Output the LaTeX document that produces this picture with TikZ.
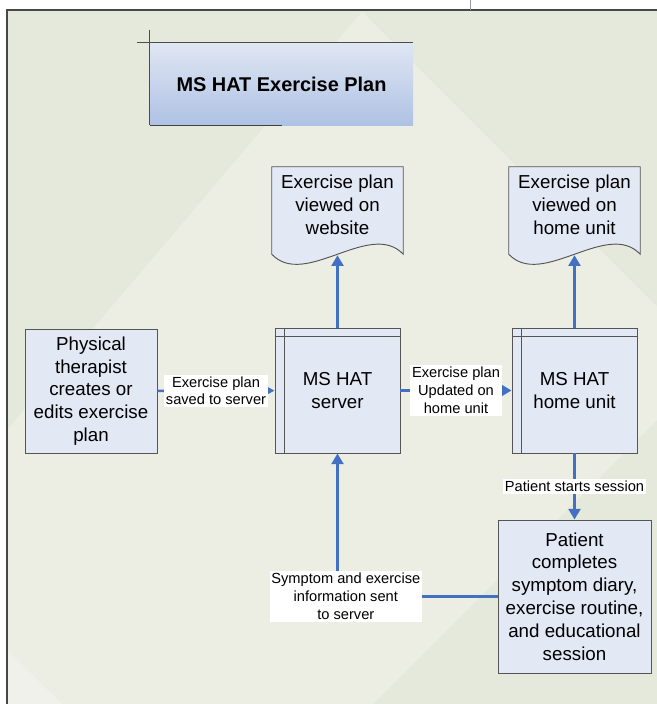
\documentclass[tikz,border=0pt]{standalone}
\usepackage{fontspec}
\setmainfont{Liberation Sans}
\usetikzlibrary{arrows.meta,positioning,calc,backgrounds}
\definecolor{boxfill}{RGB}{227,232,245}
\definecolor{boxline}{RGB}{85,85,85}
\definecolor{flowblue}{RGB}{66,113,196}
\definecolor{paperdark}{RGB}{229,233,220}
\definecolor{paperlight}{RGB}{236,238,228}
\definecolor{paperwhite}{RGB}{240,241,234}
\definecolor{titletop}{RGB}{224,230,243}
\definecolor{titlebot}{RGB}{174,194,228}
\pgfdeclarelayer{paper}
\pgfsetlayers{paper,background,main}
\tikzset{
  block/.style   ={rectangle, draw=boxline, line width=0.8pt, fill=boxfill,
                   align=center, inner sep=2pt, font=\fontsize{16}{19.5}\selectfont},
  store/.style   ={block, minimum width=3.75cm, minimum height=3.75cm},
  doc/.style     ={rectangle, align=center, inner sep=0pt, minimum width=3.93cm,
                   minimum height=2.28cm, font=\fontsize{16}{19.5}\selectfont},
  docline/.style ={draw=boxline, line width=0.8pt, fill=boxfill},
  titlebox/.style={rectangle, top color=titletop, bottom color=titlebot,
                   minimum width=7.89cm, minimum height=2.46cm,
                   font=\fontsize{17}{20}\selectfont\bfseries},
  flow/.style    ={draw=flowblue, line width=2.8pt, -{Triangle[length=9pt,width=10pt]}},
  lbl/.style     ={fill=white, align=center, inner sep=1.5pt,
                   font=\fontsize{12.5}{15.3}\selectfont},
  frame/.style   ={draw=black!72, line width=1.2pt},
}

\begin{document}
\begin{tikzpicture}[x=0.03cm, y=-0.03cm]
    \useasboundingbox (0,0) rectangle (657,704);

    % paper
    \begin{pgfonlayer}{paper}
        \fill[white] (0,0) rectangle (657,704);
        \fill[paperdark] (7,10) rectangle (657,704);
        \fill[paperlight] (362,12) -- (657,307) -- (657,420) -- (373,704)
            -- (7,704) -- (7,430) -- cycle;
        \fill[paperwhite] (7,650) -- (62,704) -- (7,704) -- cycle;
        \draw[frame] (7,704) -- (7,10) -- (657,10);
        \draw[black!40, line width=0.5pt] (470,0) -- (470,10);
    \end{pgfonlayer}

    % title
    \node[titlebox] (title) at (281.5,84) {MS HAT Exercise Plan};
    \draw[black!70, line width=0.7pt] ($(title.north west)+(-13,0)$) -- (title.north east);
    \draw[black!70, line width=0.7pt] ($(title.north west)+(0,-13)$) -- (title.south west);
    \draw[black!75, line width=1.2pt] (title.south west) -- (title.south);

    % boxes
    \node[block, minimum width=3.96cm, minimum height=3.72cm] (pt) at (91,391)
        {Physical\\therapist\\creates or\\edits exercise\\plan};
    \node[store] (srv) at (337.5,390.5) {MS HAT\\server};
    \node[store] (unit) at (574.5,390.5) {MS HAT\\home unit};
    \node[block, minimum width=4.59cm, minimum height=4.59cm] (pat) at (574.5,596.5)
        {Patient\\completes\\symptom diary,\\exercise routine,\\and educational\\session};
    \foreach \n in {srv,unit} {
        \draw[boxline, line width=0.8pt] ($(\n.north west)+(10,0)$) -- ($(\n.south west)+(10,0)$);
        \draw[boxline, line width=0.8pt] ($(\n.north west)+(0,9)$) -- ($(\n.north east)+(0,9)$);
    }

    % documents
    \node[doc] (web) at (337.5,205) {Exercise plan\\viewed on\\website};
    \node[doc] (view) at (574.5,205) {Exercise plan\\viewed on\\home unit};
    \begin{scope}[on background layer]
        \foreach \d in {web,view}
            \filldraw[docline] ($(\d.south west)+(0,11)$) -- (\d.north west)
                -- (\d.north east) -- ($(\d.south east)+(0,11)$)
                .. controls +(-33,-35) and +(33,35) .. ($(\d.south west)+(0,11)$) -- cycle;
    \end{scope}
    \coordinate (webtip) at ($(web.south)+(0,12)$);
    \coordinate (viewtip) at ($(view.south)+(0,12)$);

    % connectors
    \draw[flow, line width=2pt, -{Triangle[length=7pt,width=7pt]}] (pt) -- (srv)
        node[midway,lbl]{Exercise plan\\saved to server};
    \draw[flow] (srv) -- (unit)
        node[midway,lbl]{Exercise plan\\Updated on\\home unit};
    \draw[flow] (srv) -- (webtip);
    \draw[flow] (unit) -- (viewtip);
    \draw[flow] (unit) -- (pat)
        node[midway,lbl]{Patient starts session};
    \draw[flow] (pat.west) -| (srv.south)
        node[pos=0.5,lbl,xshift=0.25cm]{Symptom and exercise\\information sent\\to server};
\end{tikzpicture}
\end{document}
